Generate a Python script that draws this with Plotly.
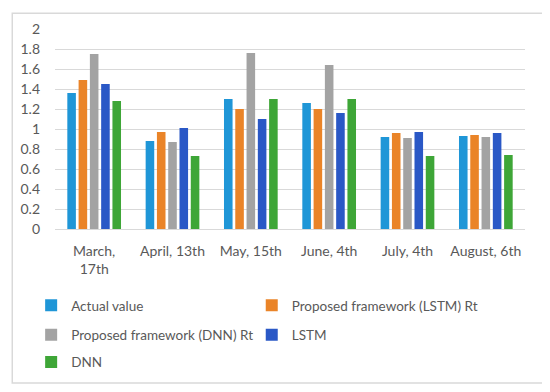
import plotly.graph_objects as go

categories = ["March,<br>17th", "April, 13th", "May, 15th", "June, 4th", "July, 4th", "August, 6th"]
series_names = ["Actual value", "Proposed framework (LSTM) Rt", "Proposed framework (DNN) Rt", "LSTM", "DNN"]
actual = [1.36, 0.88, 1.30, 1.26, 0.92, 0.93]
lstm_rt = [1.49, 0.97, 1.20, 1.20, 0.96, 0.94]
dnn_rt = [1.75, 0.87, 1.76, 1.64, 0.91, 0.92]
lstm = [1.45, 1.01, 1.10, 1.16, 0.97, 0.96]
dnn = [1.28, 0.73, 1.30, 1.30, 0.73, 0.74]
y_ticks = [0, 0.2, 0.4, 0.6, 0.8, 1, 1.2, 1.4, 1.6, 1.8, 2]
y_tick_text = ["0", "0.2", "0.4", "0.6", "0.8", "1", "1.2", "1.4", "1.6", "1.8", "2"]

colors = ["#1f96d7", "#ea8428", "#a3a3a3", "#2a58c6", "#3ea637"]
values = [actual, lstm_rt, dnn_rt, lstm, dnn]

# page body adds an 8px offset; figure coordinates = screen - 8
OFF = 8
W, H = 542, 384
ml, mt = 52 - OFF, 25 - OFF
plot_right, plot_bottom = 525 - OFF, 229 - OFF
mr, mb = W - plot_right, H - plot_bottom
pw, ph = W - ml - mr, H - mt - mb

# legend slots: (text start x on screen, row center y on screen)
legend_slots = [(68, 307), (290, 307), (68, 337), (290, 337), (68, 365)]
legend_ids = ["legend", "legend2", "legend3", "legend4", "legend5"]

fig = go.Figure()
for name, vals, col, lg in zip(series_names, values, colors, legend_ids):
    fig.add_trace(go.Bar(x=categories, y=vals, name=name, marker=dict(color=col, line=dict(width=0)),
                         legend=lg))

font_family = "Lato, Liberation Sans, sans-serif"
txt_col = "#595959"

def legend_cfg(slot):
    sx, sy = slot
    px = sx - 40 - OFF
    py = sy - OFF
    return dict(orientation="h", x=(px - ml) / pw, xanchor="left", y=(plot_bottom - py) / ph, yanchor="middle",
                font=dict(size=13.5, color=txt_col, family=font_family),
                bgcolor="rgba(0,0,0,0)", itemwidth=30)

legend_layout = {lg: legend_cfg(s) for lg, s in zip(legend_ids, legend_slots)}

fig.update_layout(
    width=W, height=H,
    margin=dict(l=ml, r=mr, t=mt, b=mb),
    paper_bgcolor="white", plot_bgcolor="white",
    barmode="group", bargap=0.28, bargroupgap=0.24,
    font=dict(family=font_family, color=txt_col, size=13),
    showlegend=True,
    xaxis=dict(showgrid=False, showline=False, ticks="", ticklabelstandoff=12,
               tickfont=dict(size=14, color=txt_col)),
    yaxis=dict(range=[0, 2], tickvals=y_ticks, ticktext=y_tick_text, showgrid=True, gridcolor="#d9d9d9",
               gridwidth=1, zeroline=True, zerolinecolor="#d9d9d9", zerolinewidth=1, showline=False,
               ticks="", ticklabelstandoff=14, tickfont=dict(size=14, color=txt_col)),
    **legend_layout,
)

# outer chart border (screen px -> figure px)
bx0, bx1, by0, by1 = 1, 544 - OFF, 1, 386 - OFF
fig.add_shape(type="rect", xref="paper", yref="paper",
              x0=(bx0 - ml) / pw, x1=(bx1 - ml) / pw,
              y0=(plot_bottom - by1) / ph, y1=(plot_bottom - by0) / ph,
              line=dict(color="#d9d9d9", width=1.5), fillcolor="rgba(0,0,0,0)", layer="below")

fig.write_html("out.html")
